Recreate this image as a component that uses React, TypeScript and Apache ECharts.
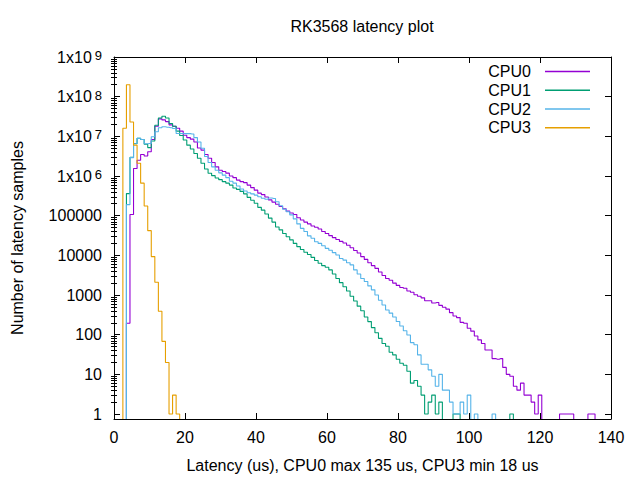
import React, { useEffect, useRef } from "react";
import * as echarts from "echarts";

// Histogram bins: index = latency in us (0..140), value = number of samples
const cpu0 = [
  0, 0, 0, 0, 195, 1.07e5, 1.55e6, 2.5e6, 3.5e6, 3.2e6,
  4.1e6, 8.3e6, 1.8e7, 2.75e7, 2.6e7, 2.35e7, 1.95e7, 1.8e7, 1.6e7, 1.35e7,
  1.07e7, 9.3e6, 8.5e6, 7.2e6, 5.1e6, 4.5e6, 3.5e6, 2.8e6, 2.2e6, 1.7e6,
  1.4e6, 1.3e6, 1.18e6, 1.0e6, 9.1e5, 7.9e5, 7.2e5, 6.8e5, 5.9e5, 5.1e5,
  4.4e5, 3.7e5, 3.4e5, 2.95e5, 2.5e5, 2.2e5, 1.95e5, 1.7e5, 1.5e5, 1.3e5,
  1.17e5, 1.07e5, 8.9e4, 7.8e4, 6.9e4, 6.2e4, 5.5e4, 5.1e4, 4.6e4, 4.0e4,
  3.55e4, 3.15e4, 2.8e4, 2.5e4, 2.25e4, 2.05e4, 1.8e4, 1.55e4, 1.32e4, 1.15e4,
  9300, 7900, 6500, 5500, 4700, 3800, 3100, 2600, 2350, 2000,
  1750, 1550, 1480, 1260, 1170, 1020, 930, 850, 720, 720,
  630, 650, 550, 490, 440, 360, 295, 270, 205, 195,
  145, 123, 93, 74, 60, 41, 41, 25, 24, 25,
  15, 10, 9, 5, 4, 6, 3, 3, 2, 1,
  3, 0, 0, 0, 0, 0, 1, 1, 1, 1,
  0, 0, 0, 0, 1, 1, 0, 0, 0, 0,
  0,
];

const cpu1 = [
  0, 0, 0, 0, 3.6e5, 2.95e6, 6.6e6, 8.9e6, 8.3e6, 6.3e6,
  5.2e6, 7.6e6, 1.9e7, 2.9e7, 3.2e7, 2.9e7, 2.1e7, 1.8e7, 1.35e7, 1.05e7,
  8.1e6, 6.0e6, 4.8e6, 3.7e6, 2.8e6, 2.1e6, 1.5e6, 1.17e6, 1.02e6, 8.9e5,
  8.1e5, 7.2e5, 6.6e5, 5.9e5, 5.0e5, 4.6e5, 4.1e5, 3.55e5, 2.9e5, 2.45e5,
  2.05e5, 1.62e5, 1.38e5, 1.1e5, 8.7e4, 6.9e4, 5.2e4, 4.4e4, 3.55e4, 2.95e4,
  2.45e4, 2.0e4, 1.66e4, 1.41e4, 1.2e4, 1.05e4, 8900, 7400, 6300, 5500,
  5000, 4300, 3400, 2600, 2050, 1620, 1260, 930, 710, 525,
  400, 280, 214, 151, 112, 81, 60, 51, 36, 31,
  24, 19, 17, 12, 6, 7, 5, 3, 1, 2,
  3, 1, 2, 0, 0, 0, 1, 1, 0, 0,
  0, 0, 0, 0, 0, 0, 0, 0, 0, 0,
  0, 0, 1, 0, 0, 0, 0, 0, 0, 0,
  0, 0, 0, 0, 0, 0, 0, 0, 0, 0,
  0, 0, 0, 0, 0, 0, 0, 0, 0, 0,
  0,
];

const cpu2 = [
  0, 0, 0, 0, 1.9e5, 2.9e6, 6.5e6, 8.9e6, 8.3e6, 6.5e6,
  6.6e6, 9.8e6, 1.3e7, 1.65e7, 1.75e7, 1.7e7, 1.65e7, 1.58e7, 1.18e7, 1.18e7,
  1.17e7, 1.17e7, 1.15e7, 9.3e6, 7.2e6, 5.0e6, 3.1e6, 2.2e6, 1.7e6, 1.4e6,
  1.2e6, 1.05e6, 9.1e5, 7.4e5, 6.6e5, 5.6e5, 4.7e5, 4.2e5, 3.8e5, 3.55e5,
  3.3e5, 3.0e5, 2.75e5, 2.6e5, 2.8e5, 2.7e5, 2.25e5, 1.78e5, 1.45e5, 1.26e5,
  1.05e5, 8.3e4, 6.2e4, 4.8e4, 4.0e4, 3.1e4, 2.7e4, 2.2e4, 2.0e4, 1.74e4,
  1.5e4, 1.35e4, 1.17e4, 1.02e4, 8300, 7600, 6500, 5750, 4300, 3400,
  2600, 2200, 1700, 1350, 1000, 740, 560, 420, 350, 280,
  215, 166, 126, 98, 63, 56, 31, 18, 18, 13,
  9, 5, 10, 4, 4, 2, 1, 1, 2, 1,
  3, 0, 1, 0, 0, 0, 0, 1, 0, 0,
  0, 0, 0, 0, 0, 0, 0, 0, 0, 0,
  0, 0, 0, 0, 0, 0, 0, 0, 0, 0,
  0, 0, 0, 0, 0, 0, 0, 0, 0, 0,
  0,
];

const cpu3 = [
  0, 0, 0, 1.6e7, 2.0e8, 2.3e7, 6.0e6, 2.1e6, 6.6e5, 1.75e5,
  4.2e4, 9300, 2100, 390, 68, 20, 1, 3, 1, 0,
  0, 0, 0, 0, 0, 0, 0, 0, 0, 0,
  0, 0, 0, 0, 0, 0, 0, 0, 0, 0,
  0, 0, 0, 0, 0, 0, 0, 0, 0, 0,
  0, 0, 0, 0, 0, 0, 0, 0, 0, 0,
  0, 0, 0, 0, 0, 0, 0, 0, 0, 0,
  0, 0, 0, 0, 0, 0, 0, 0, 0, 0,
  0, 0, 0, 0, 0, 0, 0, 0, 0, 0,
  0, 0, 0, 0, 0, 0, 0, 0, 0, 0,
  0, 0, 0, 0, 0, 0, 0, 0, 0, 0,
  0, 0, 0, 0, 0, 0, 0, 0, 0, 0,
  0, 0, 0, 0, 0, 0, 0, 0, 0, 0,
  0, 0, 0, 0, 0, 0, 0, 0, 0, 0,
  0,
];

const seriesNames = ["CPU0", "CPU1", "CPU2", "CPU3"];
const seriesColors = ["#9400d3", "#009e73", "#56b4e9", "#e69f00"];
const seriesValues = [cpu0, cpu1, cpu2, cpu3];

const xTicks = [0, 20, 40, 60, 80, 100, 120, 140];
const yExponents = [0, 1, 2, 3, 4, 5, 6, 7, 8, 9];
const yMinorMultipliers = [2, 3, 4, 5, 6, 7, 8, 9];

const titleText = "RK3568 latency plot";
const xName = "Latency (us), CPU0 max 135 us, CPU3 min 18 us";
const yName = "Number of latency samples";

const FONT = "'Liberation Sans', Arial, sans-serif";
const Y_MIN_LOG = Math.log10(0.75);
const Y_MAX_LOG = 9;

export default function App() {
  const ref = useRef<HTMLDivElement>(null);

  useEffect(() => {
    if (!ref.current) return;
    const chart = echarts.init(ref.current, undefined, { renderer: "svg" });

    const minorTicks: number[] = [];
    yExponents.forEach((e) => {
      if (e >= Y_MAX_LOG) return;
      yMinorMultipliers.forEach((m) => minorTicks.push(e + Math.log10(m)));
    });

    const yLabel = (v: number) => {
      const n = Math.round(v);
      if (n <= 5) return "{b|" + String(Math.pow(10, n)) + "}";
      return "{b|1x10}{s|" + n + "}";
    };

    const commonY = {
      type: "value",
      min: Y_MIN_LOG,
      max: Y_MAX_LOG,
      splitLine: { show: false },
    };

    const majorTick = { show: true, inside: true, length: 6, lineStyle: { color: "#000", width: 1 } };
    const minorTick = { show: true, inside: true, length: 3, lineStyle: { color: "#000", width: 1 } };

    const option: any = {
      animation: false,
      backgroundColor: "#fff",
      textStyle: { fontFamily: FONT },
      title: {
        text: titleText,
        left: 362,
        textAlign: "center",
        top: 18,
        padding: 0,
        textStyle: { fontFamily: FONT, fontSize: 16, fontWeight: "normal", color: "#000" },
      },
      legend: {
        data: seriesNames,
        orient: "vertical",
        right: 50,
        top: 62,
        padding: 0,
        align: "right",
        icon: "rect",
        itemWidth: 45,
        itemHeight: 1.5,
        itemGap: 0,
        selectedMode: false,
        textStyle: {
          fontFamily: FONT,
          fontSize: 16,
          color: "#000",
          lineHeight: 18.8,
          padding: [0, 9, 0, 0],
        },
      },
      grid: { left: 114, right: 29, top: 57, bottom: 61, containLabel: false },
      xAxis: [
        {
          type: "value",
          min: 0,
          max: 140,
          interval: 20,
          position: "bottom",
          name: xName,
          nameLocation: "middle",
          nameGap: 38,
          nameTextStyle: { fontFamily: FONT, fontSize: 16, color: "#000" },
          axisLine: { show: true, onZero: false, lineStyle: { color: "#000", width: 1 } },
          axisTick: { ...majorTick, customValues: xTicks },
          axisLabel: { show: true, margin: 10, fontFamily: FONT, fontSize: 16, color: "#000", customValues: xTicks },
          splitLine: { show: false },
          z: 5,
        },
        {
          type: "value",
          min: 0,
          max: 140,
          interval: 20,
          position: "top",
          axisLine: { show: true, onZero: false, lineStyle: { color: "#000", width: 1 } },
          axisTick: { ...majorTick, customValues: xTicks },
          axisLabel: { show: false },
          splitLine: { show: false },
          z: 5,
        },
      ],
      yAxis: [
        {
          ...commonY,
          position: "left",
          name: yName,
          nameLocation: "middle",
          nameGap: 89,
          nameRotate: 90,
          nameTextStyle: { fontFamily: FONT, fontSize: 16, color: "#000" },
          axisLine: { show: true, onZero: false, lineStyle: { color: "#000", width: 1 } },
          axisTick: { ...majorTick, customValues: yExponents },
          axisLabel: {
            show: true,
            margin: 12,
            customValues: yExponents,
            formatter: yLabel,
            rich: {
              b: { fontFamily: FONT, fontSize: 16, color: "#000", lineHeight: 16 },
              s: { fontFamily: FONT, fontSize: 13, color: "#000", lineHeight: 10, verticalAlign: "top", padding: [0, 0, 0, 3] },
            },
          },
          z: 5,
        },
        {
          ...commonY,
          position: "left",
          axisLine: { show: false },
          axisTick: { ...minorTick, customValues: minorTicks },
          axisLabel: { show: false },
          z: 5,
        },
        {
          ...commonY,
          position: "right",
          axisLine: { show: true, onZero: false, lineStyle: { color: "#000", width: 1 } },
          axisTick: { ...majorTick, customValues: yExponents },
          axisLabel: { show: false },
          z: 5,
        },
        {
          ...commonY,
          position: "right",
          axisLine: { show: false },
          axisTick: { ...minorTick, customValues: minorTicks },
          axisLabel: { show: false },
          z: 5,
        },
      ],
      series: seriesNames.map((name, k) => ({
        name,
        type: "line",
        xAxisIndex: 0,
        yAxisIndex: 0,
        step: "middle",
        showSymbol: false,
        symbol: "none",
        clip: true,
        color: seriesColors[k],
        lineStyle: { color: seriesColors[k], width: 1.1 },
        data: seriesValues[k].map((v, i) => [i, v > 0 ? Math.log10(v) : -1]),
      })),
    };

    chart.setOption(option);
    return () => chart.dispose();
  }, []);

  return (
    <div
      ref={ref}
      style={{ position: "fixed", left: 0, top: 0, width: 640, height: 480, background: "#fff" }}
    />
  );
}
